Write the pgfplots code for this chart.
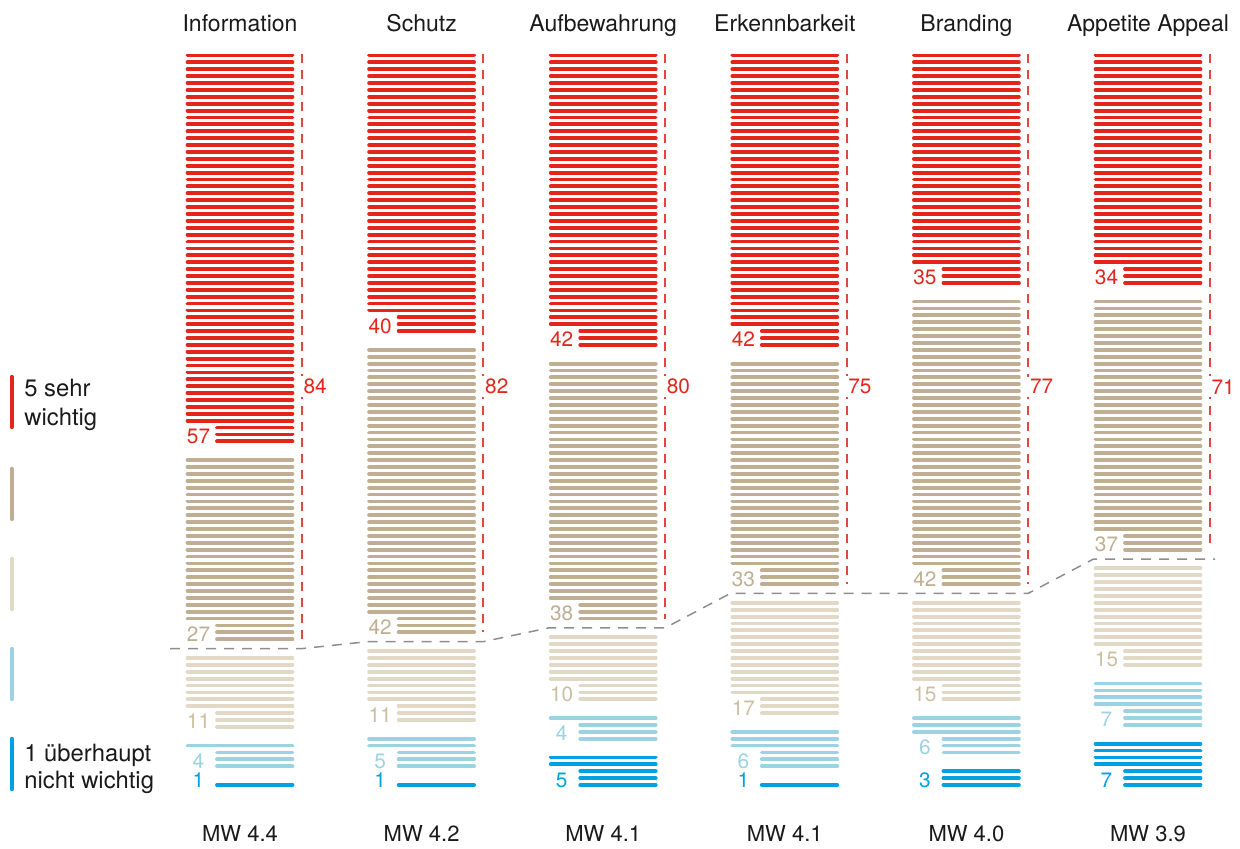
\documentclass[border=0pt]{standalone}
\usepackage{fontspec}
\setmainfont{TeX Gyre Heros}
\usepackage{pgfplots}
\usepackage{pgfplotstable}
\pgfplotsset{compat=1.18}
\definecolor{cRed}{HTML}{E3251B}
\definecolor{cTan}{HTML}{BFAE92}
\definecolor{cBeige}{HTML}{E2D8C6}
\definecolor{cLBlue}{HTML}{9BD3E2}
\definecolor{cBlue}{HTML}{00A0E2}
\definecolor{tBeige}{HTML}{CDBEA3}
\definecolor{txt}{HTML}{1A1A1A}
\definecolor{cGray}{HTML}{8E8E8E}
\definecolor{cRedDash}{HTML}{E8463C}
\newcommand\numfont{\fontsize{10.4pt}{12pt}\selectfont}
\newcommand\titlefont{\fontsize{11.5pt}{13.4pt}\selectfont}
\newcommand\legfont{\fontsize{11.9pt}{13.4pt}\selectfont}
\newcommand\mwfont{\fontsize{11pt}{13pt}\selectfont}

% shares in % per scale point (1 = not important ... 5 = very important);
% l5 = number of drawn red lines (each column shows 100 lines)
\pgfplotstableread{
col n1 n2 n3 n4 n5 l5 top
0   1  4  11 27 57 57 84
1   1  5  11 42 40 41 82
2   5  4  10 38 42 43 80
3   1  6  17 33 42 43 75
4   3  6  15 42 35 34 77
5   7  7  15 37 34 34 71
}\data

\begin{document}
\begin{tikzpicture}
\begin{axis}[width=620pt,height=424pt,scale only axis,
  xmin=0,xmax=1240,ymin=-9.1437,ymax=113.933,
  hide axis,clip=false]
\xdef\dashcoords{}
\foreach \ci in {0,...,5}{
  \pgfmathsetmacro\xl{187.5+181.6*\ci}
  \pgfmathsetmacro\xr{292.5+181.6*\ci}
  \pgfmathsetmacro\xs{217+181.6*\ci}
  \pgfmathsetmacro\xt{198.5+181.6*\ci}
  \pgfmathsetmacro\xd{round(301.8+181.6*\ci)}
  \pgfmathsetmacro\xv{300.2+181.6*\ci}
  \xdef\base{0}
  \foreach \gi in {1,...,5}{
    \ifcase\gi\relax
    \or\def\gc{cBlue}\def\tc{cBlue}%
    \or\def\gc{cLBlue}\def\tc{cLBlue}%
    \or\def\gc{cBeige}\def\tc{tBeige}%
    \or\def\gc{cTan}\def\tc{cTan}\xdef\tanbase{\base}%
    \or\def\gc{cRed}\def\tc{cRed}%
    \fi
    \pgfplotstablegetelem{\ci}{n\gi}\of\data
    \edef\nn{\pgfplotsretval}
    \ifnum\gi=5
      \pgfplotstablegetelem{\ci}{l5}\of\data
      \edef\nl{\pgfplotsretval}
    \else
      \let\nl\nn
    \fi
    \pgfmathtruncatemacro\nm{\nl-1}
    \foreach \li in {0,...,\nm}{
      \pgfmathsetmacro\yy{\base+\li}
      \ifnum\li<3 \let\xa\xs\else\let\xa\xl\fi
      \edef\temp{\noexpand\addplot[color=\gc,line width=1.9pt,line cap=round] coordinates {(\xa,\yy) (\xr,\yy)};}
      \temp
    }
    \pgfmathsetmacro\ly{\base-0.3}
    \edef\temp{\noexpand\node[anchor=base,inner sep=0pt,text=\tc,font=\noexpand\numfont] at (axis cs:\xt,\ly) {\nn};}
    \temp
    \pgfmathsetmacro\tmp{\base+\nl-1}\xdef\redtop{\tmp}
    \pgfmathsetmacro\tmp{\base+\nl+1.72}\xdef\base{\tmp}
  }
  % dashed red bracket for the top-two share
  \pgfmathsetmacro\rt{\redtop+0.2}
  \edef\temp{\noexpand\addplot[color=cRedDash,line width=0.9pt,dash pattern=on 4.3pt off 3.7pt] coordinates {(\xd,\rt) (\xd,\tanbase)};}
  \temp
  \pgfplotstablegetelem{\ci}{top}\of\data
  \edef\topv{\pgfplotsretval}
  \edef\temp{\noexpand\node[anchor=west,fill=white,inner sep=1.5pt,text=cRed,font=\noexpand\numfont] at (axis cs:\xv,57.8) {\topv};}
  \temp
  % gray dashed boundary between "3" and "4"
  \pgfmathsetmacro\Lv{\tanbase-1.36}
  \ifnum\ci=0 \def\dl{170}\else\pgfmathsetmacro\dl{185.5+181.6*\ci}\fi
  \ifnum\ci=5 \def\dr{1215}\else\let\dr\xd\fi
  \xdef\dashcoords{\dashcoords (\dl,\Lv) (\dr,\Lv)}
}
\edef\temp{\noexpand\addplot[color=cGray,line width=0.75pt,dash pattern=on 5pt off 4pt] coordinates {\dashcoords};}
\temp
\end{axis}
\pgfresetboundingbox
\useasboundingbox (current axis.south west) rectangle (current axis.north east);
\begin{scope}[x=0.5pt,y=-0.5pt,shift={(0pt,424pt)}]
  % titles
  \foreach \cx/\tt in {240/Information,421.6/Schutz,603.2/Aufbewahrung,784.8/Erkennbarkeit,966.4/Branding,1148/Appetite Appeal}{
    \node[anchor=base,inner sep=0pt,text=txt,font=\titlefont] at (\cx,32) {\tt};
  }
  \foreach \cx/\tt in {240/4.4,421.6/4.2,603.2/4.1,784.8/4.1,966.4/4.0,1148/3.9}{
    \node[anchor=base,inner sep=0pt,text=txt,font=\mwfont] at (\cx,841) {MW \tt};
  }
  % legend
  \draw[cRed,line width=2.2pt,line cap=round] (11.7,377) -- (11.7,427);
  \draw[cTan,line width=2.2pt,line cap=round] (11.7,469) -- (11.7,519);
  \draw[cBeige,line width=2.2pt,line cap=round] (11.7,559) -- (11.7,609);
  \draw[cLBlue,line width=2.2pt,line cap=round] (11.7,649) -- (11.7,699);
  \draw[cBlue,line width=2.2pt,line cap=round] (11.7,739) -- (11.7,789);
  \node[anchor=base west,inner sep=0pt,text=txt,font=\legfont] at (24,396) {5 sehr};
  \node[anchor=base west,inner sep=0pt,text=txt,font=\legfont] at (24,425) {wichtig};
  \node[anchor=base west,inner sep=0pt,text=txt,font=\legfont] at (24,761.5) {1 überhaupt};
  \node[anchor=base west,inner sep=0pt,text=txt,font=\legfont] at (24,788) {nicht wichtig};
\end{scope}
\end{tikzpicture}
\end{document}
